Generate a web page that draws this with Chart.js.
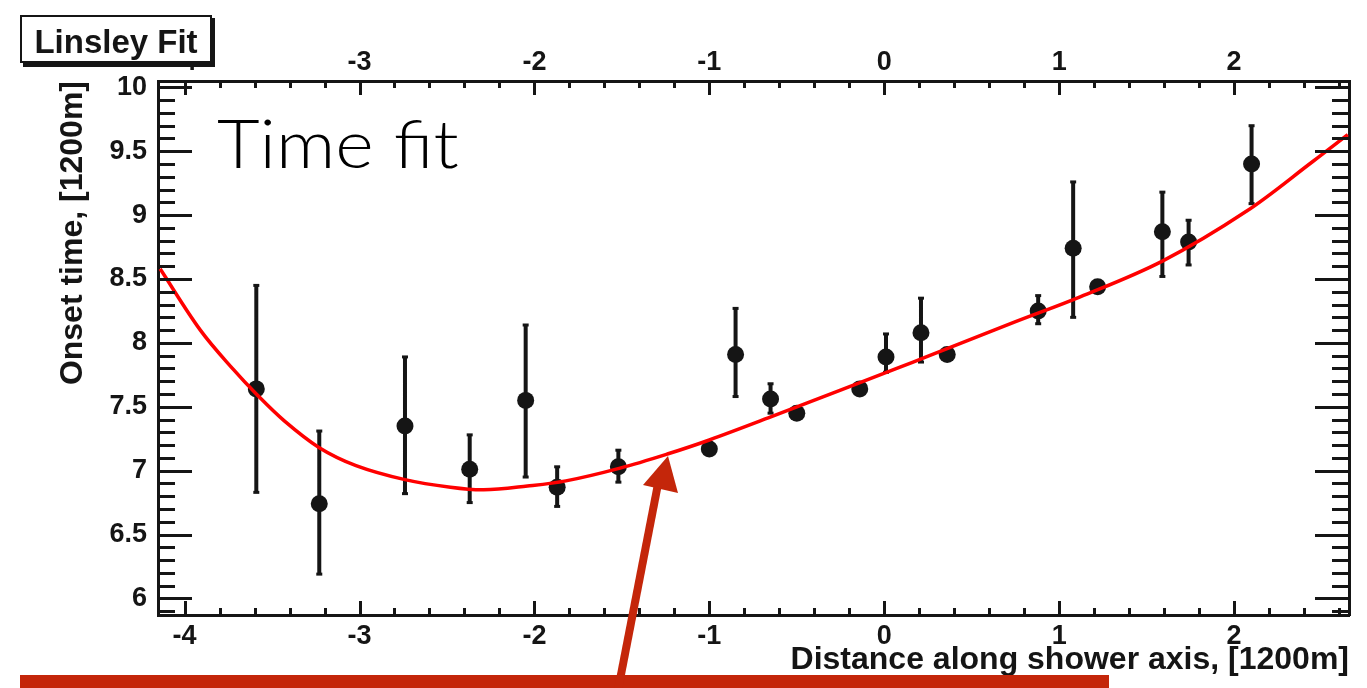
<!DOCTYPE html>
<html>
<head>
<meta charset="utf-8">
<script src="https://cdn.jsdelivr.net/npm/chart.js@4"></script>
<style>
  body { margin: 0; background: #fff; }
  canvas { display: block; }
</style>
</head>
<body>
<canvas id="canvas" width="1367" height="688"></canvas>
<script>
// measured onset times, [1200m] units
const distance = [-3.59, -3.23, -2.74, -2.37, -2.05, -1.87, -1.52, -1.00, -0.85, -0.65, -0.50,
                  -0.14, 0.01, 0.21, 0.36, 0.88, 1.08, 1.22, 1.59, 1.74, 2.10];
const onset    = [7.64, 6.74, 7.35, 7.01, 7.55, 6.87, 7.03, 7.17, 7.91, 7.56, 7.45,
                  7.64, 7.89, 8.08, 7.91, 8.25, 8.74, 8.44, 8.87, 8.79, 9.40];
const errUp    = [8.45, 7.31, 7.89, 7.28, 8.14, 7.03, 7.16, 7.20, 8.27, 7.68, 7.48,
                  7.67, 8.07, 8.35, 7.94, 8.37, 9.26, 8.47, 9.18, 8.96, 9.70];
const errDown  = [6.83, 6.19, 6.82, 6.75, 6.95, 6.72, 6.91, 7.14, 7.58, 7.45, 7.42,
                  7.61, 7.77, 7.85, 7.88, 8.15, 8.20, 8.41, 8.52, 8.61, 9.09];

// Linsley fit curve
const fitX = [-4.14, -3.91, -3.72, -3.59, -3.43, -3.23, -3.02, -2.74, -2.48, -2.29, -2.04,
              -1.82, -1.51, -1.24, -1.00, -0.63, -0.25, 0.09, 0.24, 0.74, 1.12, 1.59, 2.07, 2.45, 2.65];
const fitY = [8.58, 8.10, 7.79, 7.60, 7.39, 7.18, 7.04, 6.93, 6.87, 6.85, 6.88,
              6.92, 7.02, 7.13, 7.24, 7.43, 7.63, 7.81, 7.89, 8.16, 8.36, 8.64, 9.03, 9.42, 9.63];

const xTicks = [-4, -3, -2, -1, 0, 1, 2];
const xTickLabels = ["-4", "-3", "-2", "-1", "0", "1", "2"];
const yTicks = [6, 6.5, 7, 7.5, 8, 8.5, 9, 9.5, 10];
const yTickLabels = ["6", "6.5", "7", "7.5", "8", "8.5", "9", "9.5", "10"];

const X_MIN = -4.152, X_MAX = 2.657;
const Y_MIN = 5.87, Y_MAX = 10.05;

const INK = "#151515";
const tickFont = { family: "'Liberation Sans', Arial, sans-serif", size: 27, weight: "bold" };
const titleFont = { family: "'Liberation Sans', Arial, sans-serif", size: 32, weight: "bold" };

// error bars as one broken line
const errData = [];
distance.forEach((d, i) => {
  errData.push({ x: d, y: errDown[i] });
  errData.push({ x: d, y: errUp[i] });
  errData.push({ x: d, y: null });
});

const fixTicks = vals => scale => { scale.ticks = vals.map(v => ({ value: v })); };

// ROOT style ticks pointing into the frame
const innerTicks = {
  id: "innerTicks",
  afterDatasetsDraw(chart) {
    const { ctx, chartArea: a, scales } = chart;
    const x = scales.x, y = scales.y;
    ctx.save();
    ctx.strokeStyle = INK;
    ctx.lineWidth = 3;
    ctx.beginPath();
    for (let k = -21; k <= 13; k++) {
      const v = k * 0.2;
      if (v < X_MIN || v > X_MAX) continue;
      const px = Math.round(x.getPixelForValue(v)) + 0.5;
      const len = (k % 5 === 0) ? 14 : 7;
      ctx.moveTo(px, a.bottom); ctx.lineTo(px, a.bottom - len);
      ctx.moveTo(px, a.top); ctx.lineTo(px, a.top + len);
    }
    for (let k = 59; k <= 100; k++) {
      const v = k / 10;
      if (v < Y_MIN || v > Y_MAX) continue;
      const py = Math.round(y.getPixelForValue(v)) + 0.5;
      const len = (k % 5 === 0) ? 34 : 17;
      ctx.moveTo(a.left, py); ctx.lineTo(a.left + len, py);
      ctx.moveTo(a.right, py); ctx.lineTo(a.right - len, py);
    }
    ctx.stroke();
    ctx.restore();
  }
};

// title box, annotation text and the red arrow
const decorations = {
  id: "decorations",
  afterDraw(chart) {
    const { ctx } = chart;
    ctx.save();
    // Linsley Fit box with shadow
    ctx.fillStyle = INK;
    ctx.fillRect(23, 18, 192, 49);
    ctx.fillStyle = "#fff";
    ctx.fillRect(20, 15, 192, 48);
    ctx.strokeStyle = INK;
    ctx.lineWidth = 2;
    ctx.strokeRect(21, 16, 190, 46);
    ctx.fillStyle = INK;
    ctx.font = "bold 33px 'Liberation Sans', Arial, sans-serif";
    ctx.textAlign = "center";
    ctx.textBaseline = "alphabetic";
    ctx.fillText("Linsley Fit", 116, 53);

    // annotation, slightly wide like the original
    ctx.save();
    ctx.translate(217, 168);
    ctx.scale(1.1, 1);
    ctx.fillStyle = "#000";
    ctx.font = "300 67px Lato, 'Noto Sans', sans-serif";
    ctx.textAlign = "left";
    ctx.fillText("Time fit", 0, 0);
    ctx.restore();

    // red bar and arrow
    const red = "#c4260a";
    ctx.fillStyle = red;
    ctx.fillRect(20, 675, 1089, 13);
    ctx.strokeStyle = red;
    ctx.lineWidth = 8;
    ctx.beginPath();
    ctx.moveTo(618, 690);
    ctx.lineTo(658, 484);
    ctx.stroke();
    ctx.beginPath();
    ctx.moveTo(668, 456);
    ctx.lineTo(643, 485);
    ctx.lineTo(678, 493);
    ctx.closePath();
    ctx.fill();
    ctx.restore();
  }
};

const ctx = document.getElementById("canvas").getContext("2d");

new Chart(ctx, {
  type: "scatter",
  data: {
    datasets: [
      {
        label: "fit",
        type: "line",
        data: fitX.map((v, i) => ({ x: v, y: fitY[i] })),
        borderColor: "#ff0000",
        borderWidth: 3.5,
        pointRadius: 0,
        tension: 0.35,
        order: 0
      },
      {
        label: "onset",
        data: distance.map((v, i) => ({ x: v, y: onset[i] })),
        backgroundColor: INK,
        borderColor: INK,
        pointRadius: 8.5,
        pointBorderWidth: 0,
        order: 1
      },
      {
        label: "errors",
        type: "line",
        data: errData,
        showLine: true,
        spanGaps: false,
        borderColor: INK,
        borderWidth: 4,
        pointStyle: "line",
        pointRadius: 3,
        pointBorderWidth: 3,
        pointBorderColor: INK,
        order: 2
      }
    ]
  },
  options: {
    responsive: false,
    animation: false,
    events: [],
    layout: { padding: 0 },
    plugins: { legend: { display: false }, tooltip: { enabled: false } },
    scales: {
      x: {
        type: "linear", position: "bottom", min: X_MIN, max: X_MAX,
        afterFit: s => { s.height = 73; },
        afterBuildTicks: fixTicks(xTicks),
        grid: { display: false, drawTicks: false },
        border: { display: true, width: 3, color: INK },
        ticks: { font: tickFont, color: INK, padding: 5, autoSkip: false, maxRotation: 0,
                 callback: (v, i) => xTickLabels[i] },
        title: { display: true, text: "Distance along shower axis, [1200m]", align: "end",
                 font: titleFont, color: INK, padding: { top: 0, bottom: 9 } }
      },
      x2: {
        type: "linear", position: "top", min: X_MIN, max: X_MAX,
        afterFit: s => { s.height = 81; },
        afterBuildTicks: fixTicks(xTicks),
        grid: { display: false, drawTicks: false },
        border: { display: true, width: 3, color: INK },
        ticks: { font: tickFont, color: INK, padding: 2, autoSkip: false, maxRotation: 0,
                 callback: (v, i) => xTickLabels[i] }
      },
      y: {
        type: "linear", position: "left", min: Y_MIN, max: Y_MAX,
        afterFit: s => { s.width = 158; },
        afterBuildTicks: fixTicks(yTicks),
        grid: { display: false, drawTicks: false },
        border: { display: true, width: 3, color: INK },
        ticks: { font: tickFont, color: INK, padding: 11, autoSkip: false,
                 callback: (v, i) => yTickLabels[i] },
        title: { display: true, text: "Onset time, [1200m]", align: "end",
                 font: titleFont, color: INK, padding: { top: 54, bottom: 0 } }
      },
      y2: {
        type: "linear", position: "right", min: Y_MIN, max: Y_MAX,
        afterFit: s => { s.width = 18; },
        grid: { display: false, drawTicks: false },
        border: { display: true, width: 3, color: INK },
        ticks: { display: false }
      }
    }
  },
  plugins: [innerTicks, decorations]
});
</script>
</body>
</html>
